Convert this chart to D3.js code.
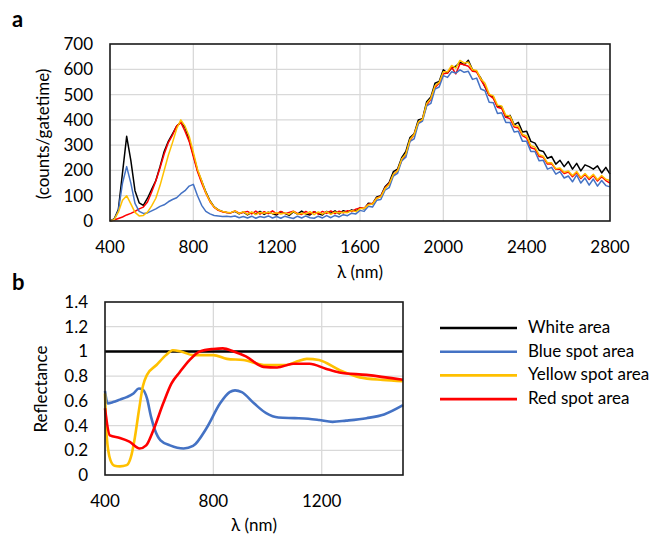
<!DOCTYPE html>
<html>
<head>
<meta charset="utf-8">
<script src="https://cdn.jsdelivr.net/npm/d3@7"></script>
<style>
  body { margin: 0; background: #fff; }
  svg { display: block; }
  text { font-family: Lato, "Open Sans", sans-serif; fill: #000; }
</style>
</head>
<body>
<svg id="fig" width="654" height="535"></svg>
<script>
// ---- panel a: emission spectra, sampled every 20 nm from 400 to 2800
const emissionNm = d3.range(400, 2801, 20);

const emWhite = [
  0, 8, 45, 190, 335, 240, 120, 72, 62, 90,
  125, 160, 215, 275, 315, 345, 375, 390, 370, 320,
  262, 200, 158, 115, 80, 56, 44, 38, 34, 33,
  38, 28, 36, 24, 34, 27, 38, 26, 35, 29,
  24, 37, 30, 22, 36, 27, 39, 28, 24, 37,
  29, 24, 38, 30, 40, 28, 41, 35, 44, 39,
  52, 48, 70, 68, 95, 100, 135, 152, 195, 205,
  250, 275, 330, 345, 400, 405, 472, 490, 545, 552,
  598, 585, 605, 612, 628, 618, 636, 598, 590, 565,
  530, 498, 490, 452, 452, 410, 418, 380, 390, 352,
  355, 315, 308, 280, 275, 248, 255, 225, 240, 215,
  235, 205, 228, 198, 222, 215, 205, 218, 190, 212,
  185
];
const emBlue = [
  0, 5, 40, 150, 215, 150, 70, 38, 30, 32,
  40, 48, 58, 64, 76, 85, 92, 108, 120, 138,
  145, 100, 62, 38, 28, 22, 20, 18, 19, 17,
  20, 13, 18, 12, 19, 11, 18, 14, 20, 12,
  18, 11, 19, 14, 10, 19, 12, 20, 13, 11,
  19, 12, 21, 13, 22, 16, 25, 21, 31, 28,
  42, 38, 58, 55, 82, 85, 122, 132, 178, 188,
  238, 252, 315, 325, 385, 395, 455, 465, 522, 530,
  575, 568, 590, 585, 598, 588, 592, 560, 565, 522,
  515, 470, 468, 425, 428, 390, 390, 352, 355, 315,
  315, 275, 275, 238, 240, 205, 212, 185, 195, 170,
  178, 155, 182, 150, 170, 142, 166, 138, 160, 140,
  135
];
const emYellow = [
  0, 5, 35, 82, 100, 68, 34, 20, 22, 35,
  60, 90, 140, 200, 260, 310, 365, 400, 375, 335,
  272, 205, 160, 112, 78, 55, 44, 38, 35, 33,
  40, 29, 37, 26, 36, 25, 34, 31, 35, 29,
  33, 28, 32, 26, 38, 27, 31, 28, 37, 25,
  36, 27, 37, 26, 36, 32, 35, 33, 41, 37,
  48, 50, 64, 67, 90, 96, 128, 145, 185, 198,
  245, 265, 322, 342, 392, 402, 465, 485, 535, 548,
  590, 590, 615, 605, 635, 625, 628, 598, 595, 562,
  545, 502, 495, 458, 455, 418, 415, 378, 375, 342,
  336, 298, 292, 262, 256, 230, 230, 207, 210, 193,
  198, 180, 196, 172, 188, 170, 185, 163, 180, 165,
  160
];
const emRed = [
  0, 4, 10, 16, 24, 30, 38, 48, 55, 75,
  115, 158, 210, 265, 310, 340, 375, 390, 355, 315,
  255, 196, 150, 110, 76, 54, 42, 36, 34, 32,
  40, 31, 34, 38, 28, 39, 27, 37, 29, 40,
  28, 38, 29, 34, 39, 30, 26, 38, 28, 37,
  27, 38, 30, 40, 29, 39, 32, 41, 37, 47,
  52, 50, 66, 69, 90, 98, 130, 148, 182, 200,
  238, 262, 318, 342, 388, 402, 458, 482, 528, 545,
  582, 585, 608, 582, 622, 618, 612, 592, 590, 558,
  532, 498, 485, 450, 445, 410, 405, 372, 368, 338,
  328, 290, 285, 255, 252, 225, 226, 205, 205, 188,
  194, 175, 192, 168, 184, 164, 180, 158, 175, 160,
  150
];

// ---- panel b: reflectance, [nm, value]
const refWhite = [[400, 1], [1500, 1]];
const refBlue = [
  [400, 0.68], [410, 0.58], [430, 0.59], [455, 0.61], [480, 0.63], [505, 0.66],
  [525, 0.70], [540, 0.69], [555, 0.62], [570, 0.47], [585, 0.36], [605, 0.28],
  [640, 0.24], [690, 0.215], [725, 0.235], [775, 0.38], [825, 0.58], [860, 0.67],
  [880, 0.685], [905, 0.67], [950, 0.58], [995, 0.50], [1040, 0.465], [1100, 0.46],
  [1150, 0.455], [1190, 0.445], [1240, 0.43], [1290, 0.44], [1365, 0.46],
  [1430, 0.49], [1500, 0.565]
];
const refYellow = [
  [400, 0.66], [406, 0.32], [420, 0.12], [435, 0.075], [455, 0.07], [480, 0.08],
  [495, 0.14], [510, 0.30], [525, 0.52], [540, 0.72], [555, 0.81], [590, 0.89],
  [625, 0.97], [650, 1.01], [680, 1.0], [725, 0.97], [800, 0.97], [850, 0.94],
  [910, 0.93], [995, 0.89], [1070, 0.89], [1110, 0.92], [1145, 0.94], [1190, 0.93],
  [1265, 0.85], [1340, 0.79], [1425, 0.77], [1500, 0.76]
];
const refRed = [
  [400, 0.54], [418, 0.32], [455, 0.30], [490, 0.27], [528, 0.215], [552, 0.24],
  [578, 0.36], [615, 0.58], [645, 0.74], [675, 0.83], [712, 0.93], [750, 1.0],
  [800, 1.02], [835, 1.025], [875, 1.0], [920, 0.96], [985, 0.875], [1035, 0.87],
  [1095, 0.90], [1155, 0.90], [1215, 0.86], [1265, 0.83], [1365, 0.81], [1500, 0.77]
];

const legendLabels = ["White area", "Blue spot area", "Yellow spot area", "Red spot area"];
const colors = { white: "#000000", blue: "#4472c4", yellow: "#ffc000", red: "#ff0000" };

const ticksA_x = [400, 800, 1200, 1600, 2000, 2400, 2800];
const ticksA_y = [0, 100, 200, 300, 400, 500, 600, 700];
const ticksB_x = [400, 800, 1200];
const ticksB_y = [0, 0.2, 0.4, 0.6, 0.8, 1, 1.2, 1.4];

const fs = 17;
const svg = d3.select("#fig");

// Excel-like gridlines and tick labels
function panel(x, y, xTicks, yTicks, yFmt) {
  const g = svg.append("g");
  const xr = x.range(), yr = y.range();
  g.selectAll(".gx").data(xTicks.filter(d => x(d) > xr[0] + 1 && x(d) < xr[1] - 1))
    .join("line")
    .attr("x1", d => x(d)).attr("x2", d => x(d))
    .attr("y1", yr[0]).attr("y2", yr[1])
    .attr("stroke", "#d9d9d9").attr("stroke-width", 1.3);
  g.selectAll(".gy").data(yTicks.filter(d => y(d) < yr[0] - 1 && y(d) > yr[1] + 1))
    .join("line")
    .attr("x1", xr[0]).attr("x2", xr[1])
    .attr("y1", d => y(d)).attr("y2", d => y(d))
    .attr("stroke", "#d9d9d9").attr("stroke-width", 1.3);

  g.selectAll(".tx").data(xTicks).join("text")
    .attr("x", d => x(d)).attr("y", yr[0] + 32)
    .attr("text-anchor", "middle").attr("font-size", fs)
    .text(d => d);
  g.selectAll(".ty").data(yTicks).join("text")
    .attr("x", xr[0] - 17).attr("y", d => y(d) + 6)
    .attr("text-anchor", "end").attr("font-size", fs)
    .text(yFmt);
  return g;
}

function frame(x, y) {
  svg.append("rect")
    .attr("x", x.range()[0]).attr("y", y.range()[1])
    .attr("width", x.range()[1] - x.range()[0])
    .attr("height", y.range()[0] - y.range()[1])
    .attr("fill", "none").attr("stroke", "#1a1a1a").attr("stroke-width", 1.6);
}

// ---- panel a
const xA = d3.scaleLinear().domain([400, 2800]).range([110, 610]);
const yA = d3.scaleLinear().domain([0, 700]).range([221, 44]);
panel(xA, yA, ticksA_x, ticksA_y, d => d);

const lineA = d3.line().x((d, i) => xA(emissionNm[i])).y(d => yA(d));
const seriesA = [
  [emWhite, colors.white],
  [emRed, colors.red],
  [emBlue, colors.blue],
  [emYellow, colors.yellow]
];
svg.append("g")
  .selectAll("path").data(seriesA).join("path")
  .attr("d", d => lineA(d[0]))
  .attr("fill", "none").attr("stroke", d => d[1])
  .attr("stroke-width", 1.5).attr("stroke-linejoin", "round");
frame(xA, yA);

svg.append("text").attr("x", 360).attr("y", 278)
  .attr("text-anchor", "middle").attr("font-size", fs).text("λ (nm)");
svg.append("text")
  .attr("transform", "translate(49,134) rotate(-90)")
  .attr("text-anchor", "middle").attr("font-size", fs).text("(counts/gatetime)");
svg.append("text").attr("x", 12).attr("y", 27)
  .attr("font-size", 22).attr("font-weight", "bold").text("a");

// ---- panel b
const xB = d3.scaleLinear().domain([400, 1500]).range([105, 403]);
const yB = d3.scaleLinear().domain([0, 1.4]).range([475, 302]);
panel(xB, yB, ticksB_x, ticksB_y, d => d === 0 || d === 1 ? d : d.toFixed(1));

const lineB = d3.line().x(d => xB(d[0])).y(d => yB(d[1])).curve(d3.curveMonotoneX);
const seriesB = [
  [refWhite, colors.white],
  [refBlue, colors.blue],
  [refYellow, colors.yellow],
  [refRed, colors.red]
];
svg.append("g")
  .selectAll("path").data(seriesB).join("path")
  .attr("d", d => lineB(d[0]))
  .attr("fill", "none").attr("stroke", d => d[1])
  .attr("stroke-width", 2.6).attr("stroke-linejoin", "round");
frame(xB, yB);

svg.append("text").attr("x", 254).attr("y", 531)
  .attr("text-anchor", "middle").attr("font-size", fs).text("λ (nm)");
svg.append("text")
  .attr("transform", "translate(47,389) rotate(-90)")
  .attr("text-anchor", "middle").attr("font-size", fs).text("Reflectance");
svg.append("text").attr("x", 12).attr("y", 290)
  .attr("font-size", 22).attr("font-weight", "bold").text("b");

// ---- legend
const legColors = [colors.white, colors.blue, colors.yellow, colors.red];
const leg = svg.append("g").selectAll("g").data(legendLabels).join("g")
  .attr("transform", (d, i) => `translate(440,${328 + i * 23.7})`);
leg.append("line").attr("x1", 0).attr("x2", 77)
  .attr("stroke", (d, i) => legColors[i]).attr("stroke-width", 2.6);
leg.append("text").attr("x", 88).attr("y", 5).attr("font-size", fs).text(d => d);
</script>
</body>
</html>
